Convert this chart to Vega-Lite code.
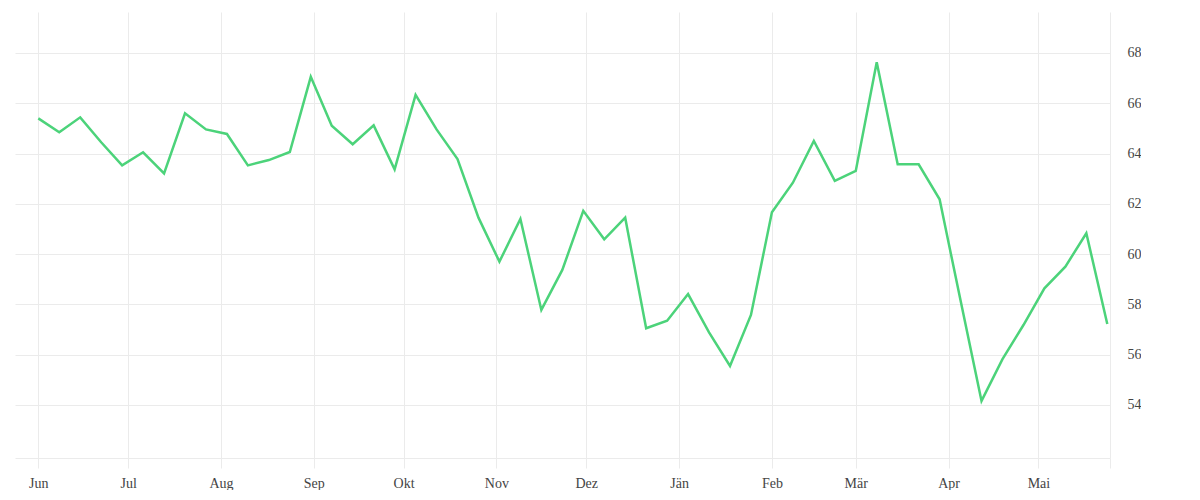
{
  "$schema": "https://vega.github.io/schema/vega-lite/v6.json",
  "width": 1095,
  "height": 446,
  "padding": {"left": 15, "top": 12, "right": 0, "bottom": 0},
  "background": "#ffffff",
  "config": {
    "view": {"stroke": null},
    "font": "Liberation Serif"
  },
  "data": {
    "values": [
      {"date": "2022-06-01", "value": 65.40},
      {"date": "2022-06-08", "value": 64.85},
      {"date": "2022-06-15", "value": 65.44},
      {"date": "2022-06-22", "value": 64.45},
      {"date": "2022-06-29", "value": 63.53},
      {"date": "2022-07-06", "value": 64.05},
      {"date": "2022-07-13", "value": 63.21},
      {"date": "2022-07-20", "value": 65.60},
      {"date": "2022-07-27", "value": 64.96},
      {"date": "2022-08-03", "value": 64.78},
      {"date": "2022-08-10", "value": 63.53},
      {"date": "2022-08-17", "value": 63.74},
      {"date": "2022-08-24", "value": 64.06},
      {"date": "2022-08-31", "value": 67.05},
      {"date": "2022-09-07", "value": 65.11},
      {"date": "2022-09-14", "value": 64.37},
      {"date": "2022-09-21", "value": 65.12},
      {"date": "2022-09-28", "value": 63.37},
      {"date": "2022-10-05", "value": 66.33},
      {"date": "2022-10-12", "value": 64.96},
      {"date": "2022-10-19", "value": 63.78},
      {"date": "2022-10-26", "value": 61.45},
      {"date": "2022-11-02", "value": 59.70},
      {"date": "2022-11-09", "value": 61.40},
      {"date": "2022-11-16", "value": 57.78},
      {"date": "2022-11-23", "value": 59.37},
      {"date": "2022-11-30", "value": 61.72},
      {"date": "2022-12-07", "value": 60.59},
      {"date": "2022-12-14", "value": 61.45},
      {"date": "2022-12-21", "value": 57.05},
      {"date": "2022-12-28", "value": 57.35},
      {"date": "2023-01-04", "value": 58.41},
      {"date": "2023-01-11", "value": 56.89},
      {"date": "2023-01-18", "value": 55.55},
      {"date": "2023-01-25", "value": 57.58},
      {"date": "2023-02-01", "value": 61.66},
      {"date": "2023-02-08", "value": 62.84},
      {"date": "2023-02-15", "value": 64.50},
      {"date": "2023-02-22", "value": 62.91},
      {"date": "2023-03-01", "value": 63.31},
      {"date": "2023-03-08", "value": 67.63},
      {"date": "2023-03-15", "value": 63.57},
      {"date": "2023-03-22", "value": 63.57},
      {"date": "2023-03-29", "value": 62.18},
      {"date": "2023-04-05", "value": 58.15},
      {"date": "2023-04-12", "value": 54.16},
      {"date": "2023-04-19", "value": 55.82},
      {"date": "2023-04-26", "value": 57.18},
      {"date": "2023-05-03", "value": 58.64},
      {"date": "2023-05-10", "value": 59.50},
      {"date": "2023-05-17", "value": 60.83},
      {"date": "2023-05-24", "value": 57.22}
    ]
  },
  "mark": {"type": "line", "color": "#4cd37a", "strokeWidth": 2.5, "strokeJoin": "miter"},
  "encoding": {
    "x": {
      "field": "date",
      "type": "temporal",
      "title": null,
      "scale": {
        "type": "utc",
        "domain": [
          {"year": 2022, "month": 5, "date": 24, "hours": 5, "minutes": 20, "utc": true},
          {"year": 2023, "month": 5, "date": 24, "hours": 21, "minutes": 40, "utc": true}
        ]
      },
      "axis": {
        "values": [
          {"year": 2022, "month": 6, "date": 1, "utc": true},
          {"year": 2022, "month": 7, "date": 1, "utc": true},
          {"year": 2022, "month": 8, "date": 1, "utc": true},
          {"year": 2022, "month": 9, "date": 1, "utc": true},
          {"year": 2022, "month": 10, "date": 1, "utc": true},
          {"year": 2022, "month": 11, "date": 1, "utc": true},
          {"year": 2022, "month": 12, "date": 1, "utc": true},
          {"year": 2023, "month": 1, "date": 1, "utc": true},
          {"year": 2023, "month": 2, "date": 1, "utc": true},
          {"year": 2023, "month": 3, "date": 1, "utc": true},
          {"year": 2023, "month": 4, "date": 1, "utc": true},
          {"year": 2023, "month": 5, "date": 1, "utc": true},
          {"year": 2023, "month": 5, "date": 24, "hours": 21, "minutes": 40, "utc": true}
        ],
        "labelExpr": "utcdate(datum.value) == 1 ? ['Jän','Feb','Mär','Apr','Mai','Jun','Jul','Aug','Sep','Okt','Nov','Dez'][utcmonth(datum.value)] : ''",
        "grid": true,
        "gridColor": "#ebebeb",
        "gridWidth": 1,
        "domain": true,
        "domainColor": "#ebebeb",
        "domainWidth": 1,
        "ticks": true,
        "tickColor": "#ebebeb",
        "tickSize": 10,
        "tickWidth": 1,
        "labelFont": "Liberation Serif",
        "labelFontSize": 14,
        "labelColor": "#444444",
        "labelPadding": 8,
        "labelOverlap": false,
        "labelFlush": false
      }
    },
    "y": {
      "field": "value",
      "type": "quantitative",
      "title": null,
      "scale": {"domain": [51.89, 69.63], "nice": false, "zero": false},
      "axis": {
        "orient": "right",
        "values": [54, 56, 58, 60, 62, 64, 66, 68],
        "grid": true,
        "gridColor": "#ebebeb",
        "gridWidth": 1,
        "domain": false,
        "ticks": false,
        "labelFont": "Liberation Serif",
        "labelFontSize": 14,
        "labelColor": "#444444",
        "labelPadding": 17
      }
    }
  }
}
